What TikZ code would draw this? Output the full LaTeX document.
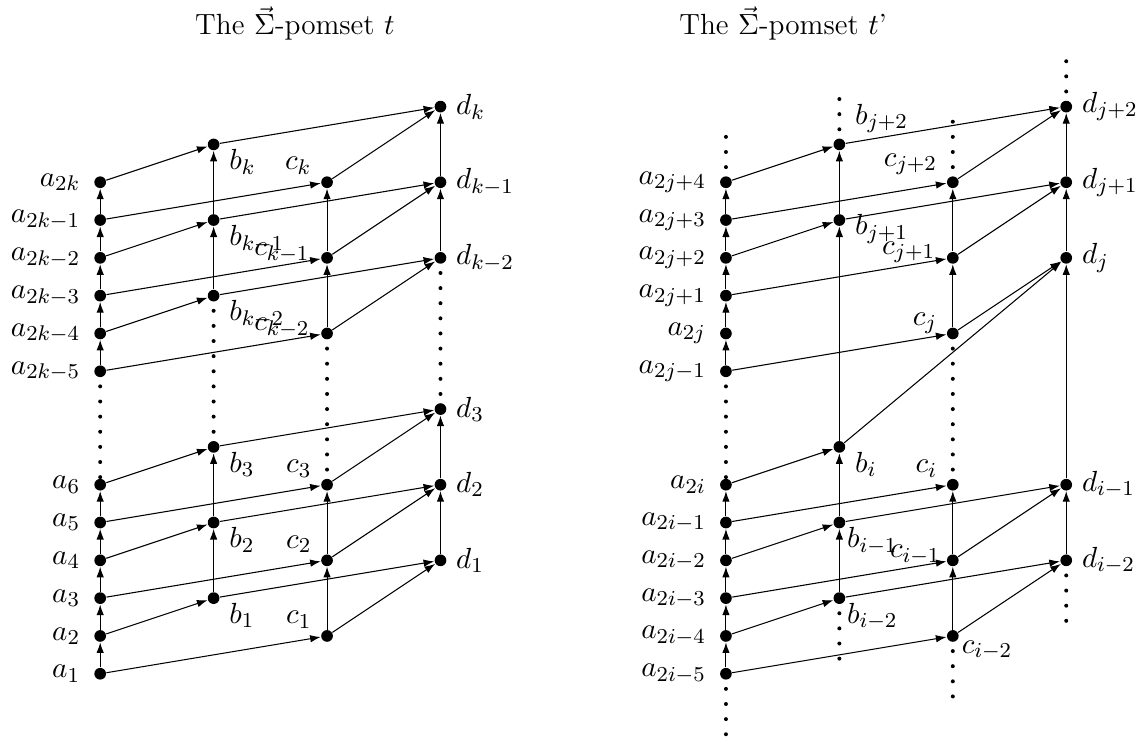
\documentclass[tikz,border=0pt]{standalone}
\usetikzlibrary{arrows.meta}

\begin{document}
\begin{tikzpicture}[x=0.5cm,y=0.5cm,font=\fontsize{11}{13.6}\selectfont,
  ev/.style={circle,fill,inner sep=0pt,minimum size=4.4pt},
  arr/.style={-{Latex[length=4pt,width=2.8pt]}},
  vd/.style={line width=1.5pt,line cap=round,dash pattern=on 0pt off 0.2cm},
  la/.style={label distance=1.6pt},
  ld/.style={label distance=0pt},
  lb/.style={anchor=north west,inner sep=0pt,xshift=4pt},
  lbu/.style={anchor=south west,inner sep=0pt,xshift=4pt,yshift=2.4pt},
  lc/.style={anchor=south east,inner sep=0pt,xshift=-4pt,yshift=1pt},
  lcl/.style={anchor=east,inner sep=0pt,xshift=-4pt,yshift=2pt}]
  \useasboundingbox (-2.65,-1.76) rectangle (27.66,17.82);

  % titles
  \node[anchor=base] (tt) at (5.15,16.91) {The $\vec{\Sigma}$-pomset $t$};
  \node[anchor=base] (tt2) at (18.06,16.91) {The $\vec{\Sigma}$-pomset $t$'};

  % the pomset t
  \node[ev,label={[la]left:$a_1$}] (a1) at (0,0) {};
  \node[ev,label={[la]left:$a_2$}] (a2) at (0,1) {};
  \node[ev,label={[la]left:$a_3$}] (a3) at (0,2) {};
  \node[ev,label={[la]left:$a_4$}] (a4) at (0,3) {};
  \node[ev,label={[la]left:$a_5$}] (a5) at (0,4) {};
  \node[ev,label={[la]left:$a_6$}] (a6) at (0,5) {};
  \node[ev,label={[la]left:$a_{2k-5}$}] (akm5) at (0,8) {};
  \node[ev,label={[la]left:$a_{2k-4}$}] (akm4) at (0,9) {};
  \node[ev,label={[la]left:$a_{2k-3}$}] (akm3) at (0,10) {};
  \node[ev,label={[la]left:$a_{2k-2}$}] (akm2) at (0,11) {};
  \node[ev,label={[la]left:$a_{2k-1}$}] (akm1) at (0,12) {};
  \node[ev,label={[la]left:$a_{2k}$}] (ak) at (0,13) {};

  \node[ev,label={[lb]-45:$b_1$}] (b1) at (3,2) {};
  \node[ev,label={[lb]-45:$b_2$}] (b2) at (3,4) {};
  \node[ev,label={[lb]-45:$b_3$}] (b3) at (3,6) {};
  \node[ev,label={[lb]-45:$b_{k-2}$}] (bkm2) at (3,10) {};
  \node[ev,label={[lb]-45:$b_{k-1}$}] (bkm1) at (3,12) {};
  \node[ev,label={[lb]-45:$b_k$}] (bk) at (3,14) {};

  \node[ev,label={[lc]135:$c_1$}] (c1) at (6,1) {};
  \node[ev,label={[lc]135:$c_2$}] (c2) at (6,3) {};
  \node[ev,label={[lc]135:$c_3$}] (c3) at (6,5) {};
  \node[ev,label={[lcl]180:$c_{k-2}$}] (ckm2) at (6,9) {};
  \node[ev,label={[lcl]180:$c_{k-1}$}] (ckm1) at (6,11) {};
  \node[ev,label={[lc]135:$c_k$}] (ck) at (6,13) {};

  \node[ev,label={[ld]right:$d_1$}] (d1) at (9,3) {};
  \node[ev,label={[ld]right:$d_2$}] (d2) at (9,5) {};
  \node[ev,label={[ld]right:$d_3$}] (d3) at (9,7) {};
  \node[ev,label={[ld]right:$d_{k-2}$}] (dkm2) at (9,11) {};
  \node[ev,label={[ld]right:$d_{k-1}$}] (dkm1) at (9,13) {};
  \node[ev,label={[ld]right:$d_k$}] (dk) at (9,15) {};

  \draw[arr] (a1) -- (a2); \draw[arr] (a2) -- (a3); \draw[arr] (a3) -- (a4);
  \draw[arr] (a4) -- (a5); \draw[arr] (a5) -- (a6);
  \draw[arr] (akm5) -- (akm4); \draw[arr] (akm4) -- (akm3); \draw[arr] (akm3) -- (akm2);
  \draw[arr] (akm2) -- (akm1); \draw[arr] (akm1) -- (ak);
  \draw[arr] (b1) -- (b2); \draw[arr] (b2) -- (b3);
  \draw[arr] (bkm2) -- (bkm1); \draw[arr] (bkm1) -- (bk);
  \draw[arr] (c1) -- (c2); \draw[arr] (c2) -- (c3);
  \draw[arr] (ckm2) -- (ckm1); \draw[arr] (ckm1) -- (ck);
  \draw[arr] (d1) -- (d2); \draw[arr] (d2) -- (d3);
  \draw[arr] (dkm2) -- (dkm1); \draw[arr] (dkm1) -- (dk);

  \draw[arr] (a2) -- (b1); \draw[arr] (a4) -- (b2); \draw[arr] (a6) -- (b3);
  \draw[arr] (akm4) -- (bkm2); \draw[arr] (akm2) -- (bkm1); \draw[arr] (ak) -- (bk);
  \draw[arr] (a1) -- (c1); \draw[arr] (a3) -- (c2); \draw[arr] (a5) -- (c3);
  \draw[arr] (akm5) -- (ckm2); \draw[arr] (akm3) -- (ckm1); \draw[arr] (akm1) -- (ck);
  \draw[arr] (b1) -- (d1); \draw[arr] (b2) -- (d2); \draw[arr] (b3) -- (d3);
  \draw[arr] (bkm2) -- (dkm2); \draw[arr] (bkm1) -- (dkm1); \draw[arr] (bk) -- (dk);
  \draw[arr] (c1) -- (d1); \draw[arr] (c2) -- (d2); \draw[arr] (c3) -- (d3);
  \draw[arr] (ckm2) -- (dkm2); \draw[arr] (ckm1) -- (dkm1); \draw[arr] (ck) -- (dk);

  \draw[vd] (akm5.center) -- (a6.center);
  \draw[vd] (bkm2.center) -- (b3.center);
  \draw[vd] (ckm2.center) -- (c3.center);
  \draw[vd] (dkm2.center) -- (d3.center);

  % the pomset t'
  \begin{scope}[shift={(16.55,0)}]
    \node[ev,label={[la]left:$a_{2i-5}$}] (aim5) at (0,0) {};
    \node[ev,label={[la]left:$a_{2i-4}$}] (aim4) at (0,1) {};
    \node[ev,label={[la]left:$a_{2i-3}$}] (aim3) at (0,2) {};
    \node[ev,label={[la]left:$a_{2i-2}$}] (aim2) at (0,3) {};
    \node[ev,label={[la]left:$a_{2i-1}$}] (aim1) at (0,4) {};
    \node[ev,label={[la]left:$a_{2i}$}] (ai) at (0,5) {};
    \node[ev,label={[la]left:$a_{2j-1}$}] (ajm1) at (0,8) {};
    \node[ev,label={[la]left:$a_{2j}$}] (aj) at (0,9) {};
    \node[ev,label={[la]left:$a_{2j+1}$}] (ajp1) at (0,10) {};
    \node[ev,label={[la]left:$a_{2j+2}$}] (ajp2) at (0,11) {};
    \node[ev,label={[la]left:$a_{2j+3}$}] (ajp3) at (0,12) {};
    \node[ev,label={[la]left:$a_{2j+4}$}] (ajp4) at (0,13) {};

    \node[ev,label={[lb,xshift=-3pt]-45:$b_{i-2}$}] (bim2) at (3,2) {};
    \node[ev,label={[lb,xshift=-3pt]-45:$b_{i-1}$}] (bim1) at (3,4) {};
    \node[ev,label={[lb]-45:$b_i$}] (bi) at (3,6) {};
    \node[ev,label={[lb,yshift=4pt]-45:$b_{j+1}$}] (bjp1) at (3,12) {};
    \node[ev,label={[lbu]45:$b_{j+2}$}] (bjp2) at (3,14) {};

    \node[ev,label={[lb,xshift=-2.5pt]-45:$c_{i-2}$}] (cim2) at (6,1) {};
    \node[ev,label={[lcl,xshift=2pt]180:$c_{i-1}$}] (cim1) at (6,3) {};
    \node[ev,label={[lc]135:$c_i$}] (ci) at (6,5) {};
    \node[ev,label={[lc,yshift=-3pt]135:$c_j$}] (cj) at (6,9) {};
    \node[ev,label={[lcl]180:$c_{j+1}$}] (cjp1) at (6,11) {};
    \node[ev,label={[lc]135:$c_{j+2}$}] (cjp2) at (6,13) {};

    \node[ev,label={[ld]right:$d_{i-2}$}] (dim2) at (9,3) {};
    \node[ev,label={[ld]right:$d_{i-1}$}] (dim1) at (9,5) {};
    \node[ev,label={[ld]right:$d_j$}] (dj) at (9,11) {};
    \node[ev,label={[ld]right:$d_{j+1}$}] (djp1) at (9,13) {};
    \node[ev,label={[ld]right:$d_{j+2}$}] (djp2) at (9,15) {};

    \coordinate (atop) at (0,14.25);
    \coordinate (abot) at (0,-1.7);
    \coordinate (btop) at (3,15.25);
    \coordinate (bbot) at (3,0.35);
    \coordinate (ctop) at (6,14.65);
    \coordinate (cbot) at (6,-0.65);
    \coordinate (dtop) at (9,16.25);
    \coordinate (dbot) at (9,1.35);

    \draw[arr] (aim5) -- (aim4); \draw[arr] (aim4) -- (aim3); \draw[arr] (aim3) -- (aim2);
    \draw[arr] (aim2) -- (aim1); \draw[arr] (aim1) -- (ai);
    \draw[arr] (ajm1) -- (aj); \draw[arr] (aj) -- (ajp1); \draw[arr] (ajp1) -- (ajp2);
    \draw[arr] (ajp2) -- (ajp3); \draw[arr] (ajp3) -- (ajp4);
    \draw[arr] (bim2) -- (bim1); \draw[arr] (bim1) -- (bi);
    \draw[arr] (bi) -- (bjp1); \draw[arr] (bjp1) -- (bjp2);
    \draw[arr] (cim2) -- (cim1); \draw[arr] (cim1) -- (ci);
    \draw[arr] (cj) -- (cjp1); \draw[arr] (cjp1) -- (cjp2);
    \draw[arr] (dim2) -- (dim1); \draw[arr] (dim1) -- (dj);
    \draw[arr] (dj) -- (djp1); \draw[arr] (djp1) -- (djp2);

    \draw[arr] (aim4) -- (bim2); \draw[arr] (aim2) -- (bim1); \draw[arr] (ai) -- (bi);
    \draw[arr] (ajp2) -- (bjp1); \draw[arr] (ajp4) -- (bjp2);
    \draw[arr] (aim5) -- (cim2); \draw[arr] (aim3) -- (cim1); \draw[arr] (aim1) -- (ci);
    \draw[arr] (ajm1) -- (cj); \draw[arr] (ajp1) -- (cjp1); \draw[arr] (ajp3) -- (cjp2);
    \draw[arr] (bim2) -- (dim2); \draw[arr] (bim1) -- (dim1); \draw[arr] (bi) -- (dj);
    \draw[arr] (bjp1) -- (djp1); \draw[arr] (bjp2) -- (djp2);
    \draw[arr] (cim2) -- (dim2); \draw[arr] (cim1) -- (dim1); \draw[arr] (cj) -- (dj);
    \draw[arr] (cjp1) -- (djp1); \draw[arr] (cjp2) -- (djp2);

    \draw[vd] (ajm1.center) -- (ai.center);
    \draw[vd] (cj.center) -- (ci.center);
    \draw[vd] (ajp4.center) -- (atop); \draw[vd] (aim5.center) -- (abot);
    \draw[vd] (bjp2.center) -- (btop); \draw[vd] (bim2.center) -- (bbot);
    \draw[vd] (cjp2.center) -- (ctop); \draw[vd] (cim2.center) -- (cbot);
    \draw[vd] (djp2.center) -- (dtop); \draw[vd] (dim2.center) -- (dbot);
  \end{scope}
\end{tikzpicture}
\end{document}
